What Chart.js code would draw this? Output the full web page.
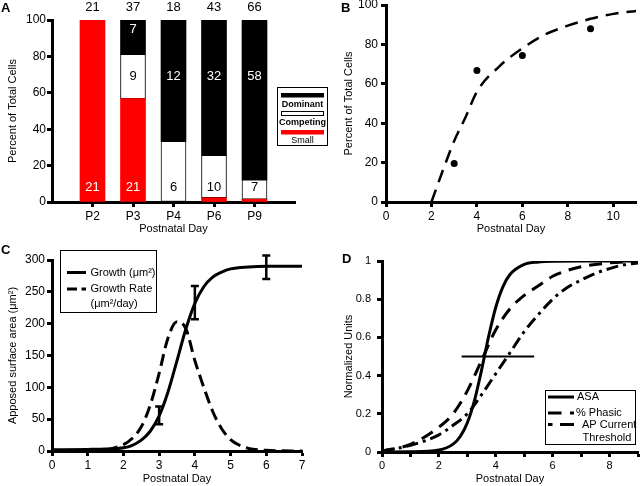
<!DOCTYPE html>
<html>
<head>
<meta charset="utf-8">
<script src="https://cdn.jsdelivr.net/npm/chart.js@4.4.1/dist/chart.umd.min.js"></script>
<style>
  body { margin: 0; background: #fff; }
  #wrap { position: relative; width: 640px; height: 486px; overflow: hidden; font-family: "Liberation Sans", Arial, sans-serif; }
  canvas { position: absolute; }
  .tag { position: absolute; font-weight: bold; font-size: 13px; line-height: 13px; color: #000; }
</style>
</head>
<body>
<div id="wrap">
  <canvas id="panelA" width="330" height="243" style="left:0;top:0"></canvas>
  <canvas id="panelB" width="310" height="243" style="left:330px;top:0"></canvas>
  <canvas id="panelC" width="320" height="243" style="left:0;top:243px"></canvas>
  <canvas id="panelD" width="320" height="243" style="left:320px;top:243px"></canvas>
  <div class="tag" style="left:1px;top:1px">A</div>
  <div class="tag" style="left:341px;top:1px">B</div>
  <div class="tag" style="left:1px;top:243px">C</div>
  <div class="tag" style="left:342px;top:252px">D</div>
</div>
<script>
// A: cell counts per day
const days = ['P2', 'P3', 'P4', 'P6', 'P9'];
const totalCells = [21, 37, 18, 43, 66];
const smallCells = [21, 21, 0, 1, 1];
const competingCells = [0, 9, 6, 10, 7];
const dominantCells = [0, 7, 12, 32, 58];

// B: percent dominant + fitted curve
const dominantDay = [3, 4, 6, 9];
const dominantPct = [19.5, 66.7, 74.4, 87.9];
const fitDay = [2, 2.5, 3, 3.5, 4, 5, 6, 7, 8, 9, 10, 11];
const fitPct = [0, 16, 31, 43, 56, 69, 78, 85, 89.5, 93, 95.5, 97];

// C: apposed surface area growth and growth rate
const growthDay = [0, 1, 1.5, 2, 2.25, 2.5, 2.75, 3, 3.25, 3.5, 3.75, 4, 4.25, 4.5, 4.75, 5, 5.5, 6, 7];
const growthArea = [2, 2.5, 3, 5, 9, 17, 31, 55, 93, 142, 192, 232, 258, 273, 281, 286, 289, 290, 290];
const rateDay = [0, 1, 1.5, 2, 2.25, 2.5, 2.75, 3, 3.25, 3.5, 3.75, 4, 4.25, 4.5, 4.75, 5, 5.25, 5.5, 6, 7];
const rateArea = [0, 0.5, 2, 10, 20, 38, 72, 122, 178, 203, 192, 142, 100, 62, 35, 18, 9, 4, 1, 0];
const sizeDay = [3, 4, 6];
const sizeLow = [42, 207, 270];
const sizeHigh = [70, 259, 307];

// D: normalized measures
const asaDay = [0, 1, 2, 2.5, 2.75, 3, 3.25, 3.5, 3.75, 4, 4.25, 4.5, 5, 5.5, 6, 7, 8, 9];
const asaVal = [0, 0.001, 0.01, 0.041, 0.081, 0.153, 0.269, 0.429, 0.606, 0.758, 0.865, 0.929, 0.982, 0.995, 0.999, 1, 1, 1];
const phasicDay = [0, 1, 2, 2.5, 3, 3.5, 4, 4.5, 5, 5.5, 6, 6.5, 7, 8, 9];
const phasicVal = [0.005, 0.04, 0.13, 0.2, 0.32, 0.48, 0.64, 0.75, 0.82, 0.87, 0.92, 0.95, 0.97, 0.99, 1];
const thresholdDay = [0, 1, 2, 2.5, 3, 3.5, 4, 4.5, 5, 5.5, 6, 6.5, 7, 7.5, 8, 8.5, 9];
const thresholdVal = [0.005, 0.035, 0.09, 0.14, 0.2, 0.3, 0.41, 0.52, 0.63, 0.72, 0.8, 0.86, 0.9, 0.935, 0.96, 0.98, 0.99];
const halfLevel = 0.5;
const halfSpan = [2.8, 5.35];

const ink = '#000';
const FONT = '"Liberation Sans", Arial, sans-serif';
Chart.defaults.font.family = FONT;
Chart.defaults.color = ink;

const pts = (xs, ys) => xs.map((x, i) => ({ x: x, y: ys[i] }));
const pctOf = arr => arr.map((v, i) => (v ? v / totalCells[i] * 100 : null));
const padEnds = arr => [null, ...arr, null];

function axis(fitSize, title, titlePad, tickPad, extra) {
  const base = {
    border: { color: ink, width: 3 },
    grid: { drawOnChartArea: false, color: ink, tickColor: ink, tickLength: 5, tickWidth: 3 },
    ticks: { color: ink, padding: tickPad, font: { size: 12 }, maxRotation: 0, autoSkip: false },
    title: { display: true, text: title, color: ink, font: { size: 11 }, padding: titlePad },
    afterFit(s) {
      if (s.isHorizontal()) s.height = fitSize; else s.width = fitSize;
      s.paddingLeft = s.paddingRight = s.paddingTop = s.paddingBottom = 0;
    }
  };
  const out = Object.assign({}, base, extra || {});
  if (extra && extra.ticks) out.ticks = Object.assign({}, base.ticks, extra.ticks);
  if (extra && extra.grid) out.grid = Object.assign({}, base.grid, extra.grid);
  return out;
}

const commonOpts = {
  responsive: false,
  animation: false,
  events: [],
  plugins: { legend: { display: false }, tooltip: { enabled: false } }
};

function curve(data, dash, width) {
  return {
    data: data, borderColor: ink, borderWidth: width || 3, borderDash: dash || [],
    pointRadius: 0, fill: false, cubicInterpolationMode: 'monotone', borderCapStyle: 'butt'
  };
}

// ---------- Panel A ----------
const barNotes = {
  id: 'barNotes',
  afterDatasetsDraw(chart) {
    const { ctx, chartArea } = chart;
    const x = chart.scales.x, y = chart.scales.y;
    ctx.save();
    ctx.textAlign = 'center';
    ctx.textBaseline = 'middle';
    days.forEach((d, i) => {
      const px = x.getPixelForValue(i + 1);
      ctx.font = '13px ' + FONT;
      ctx.fillStyle = ink;
      ctx.fillText(String(totalCells[i]), px, chartArea.top - 13);
      let lo = 0;
      [[smallCells, '#fff'], [competingCells, ink], [dominantCells, '#fff']].forEach(([arr, col]) => {
        const hi = lo + arr[i] / totalCells[i] * 100;
        const from = lo;
        lo = hi;
        if (arr[i] < 2) return;
        const at = (from <= 8 && hi >= 8) ? 8 : (from <= 69 && hi >= 69) ? 69 : hi - 5;
        ctx.fillStyle = col;
        ctx.fillText(String(arr[i]), px, y.getPixelForValue(at));
      });
    });
    // legend box
    ctx.lineWidth = 1;
    ctx.strokeStyle = ink;
    ctx.strokeRect(277.5, 87.5, 50, 58);
    ctx.fillStyle = ink;
    ctx.fillRect(281, 93, 43, 4.5);
    ctx.strokeRect(281.5, 111.5, 42, 4);
    ctx.fillStyle = '#ff0000';
    ctx.fillRect(281, 130, 43, 4.5);
    ctx.fillStyle = ink;
    ctx.font = 'bold 9px ' + FONT;
    ctx.fillText('Dominant', 302.5, 105);
    ctx.fillText('Competing', 302.5, 123);
    ctx.font = '9px ' + FONT;
    ctx.fillText('Small', 302.5, 141);
    ctx.restore();
  }
};

new Chart(document.getElementById('panelA'), {
  type: 'bar',
  data: {
    labels: padEnds(days).map(v => v || ''),
    datasets: [
      { label: 'Small', data: padEnds(pctOf(smallCells)), backgroundColor: '#ff0000', borderWidth: 0 },
      { label: 'Competing', data: padEnds(pctOf(competingCells)), backgroundColor: '#fff', borderColor: ink, borderWidth: 1, borderSkipped: false },
      { label: 'Dominant', data: padEnds(pctOf(dominantCells)), backgroundColor: ink, borderWidth: 0 }
    ]
  },
  options: Object.assign({}, commonOpts, {
    layout: { padding: { top: 20, right: 35, left: 0, bottom: 0 } },
    datasets: { bar: { barThickness: 25 } },
    scales: {
      x: axis(41, 'Postnatal Day', { top: 0, bottom: 7 }, 2, {
        stacked: true, offset: false,
        grid: { offset: false, tickColor: c => (c.index === 0 || c.index === days.length + 1) ? 'rgba(0,0,0,0)' : ink }
      }),
      y: axis(52, 'Percent of Total Cells', { top: 6, bottom: 0 }, 1, {
        stacked: true, min: 0, max: 100, ticks: { stepSize: 20 }
      })
    }
  }),
  plugins: [barNotes]
});

// ---------- Panel B ----------
new Chart(document.getElementById('panelB'), {
  type: 'line',
  data: {
    datasets: [
      curve(pts(fitDay, fitPct), [13, 8], 2.5),
      { data: pts(dominantDay, dominantPct), showLine: false, pointRadius: 3.5, pointBackgroundColor: ink, pointBorderWidth: 0 }
    ]
  },
  options: Object.assign({}, commonOpts, {
    layout: { padding: { top: 5, right: 4, left: 0, bottom: 0 } },
    scales: {
      x: axis(41, 'Postnatal Day', { top: 0, bottom: 7 }, 2, {
        type: 'linear', min: 0, max: 11, ticks: { stepSize: 2, includeBounds: false }
      }),
      y: axis(56, 'Percent of Total Cells', { top: 12, bottom: 0 }, 3, {
        min: 0, max: 100, ticks: { stepSize: 20 }
      })
    }
  })
});

// ---------- Panel C ----------
const growthExtras = {
  id: 'growthExtras',
  afterDatasetsDraw(chart) {
    const { ctx } = chart;
    const x = chart.scales.x, y = chart.scales.y;
    ctx.save();
    ctx.strokeStyle = ink;
    ctx.lineWidth = 2.5;
    sizeDay.forEach((d, i) => {
      const px = x.getPixelForValue(d);
      const yl = y.getPixelForValue(sizeLow[i]);
      const yh = y.getPixelForValue(sizeHigh[i]);
      ctx.beginPath();
      ctx.moveTo(px, yl); ctx.lineTo(px, yh);
      ctx.moveTo(px - 4, yl); ctx.lineTo(px + 4, yl);
      ctx.moveTo(px - 4, yh); ctx.lineTo(px + 4, yh);
      ctx.stroke();
    });
    // legend
    ctx.lineWidth = 1;
    ctx.strokeRect(60.5, 7.5, 96, 62);
    ctx.lineWidth = 3;
    ctx.beginPath(); ctx.moveTo(67, 29.5); ctx.lineTo(86, 29.5); ctx.stroke();
    ctx.beginPath(); ctx.moveTo(67, 46); ctx.lineTo(77, 46); ctx.moveTo(81.5, 46); ctx.lineTo(86, 46); ctx.stroke();
    ctx.fillStyle = ink;
    ctx.font = '11px ' + FONT;
    ctx.textAlign = 'left';
    ctx.textBaseline = 'middle';
    ctx.fillText('Growth (\u03bcm\u00b2)', 90.5, 29.5);
    ctx.fillText('Growth Rate', 90.5, 45.5);
    ctx.fillText('(\u03bcm\u00b2/day)', 90.5, 61);
    ctx.restore();
  }
};

new Chart(document.getElementById('panelC'), {
  type: 'line',
  data: {
    datasets: [
      curve(pts(growthDay, growthArea), [], 3),
      curve(pts(rateDay, rateArea), [12, 6], 3)
    ]
  },
  options: Object.assign({}, commonOpts, {
    layout: { padding: { top: 17, right: 18, left: 0, bottom: 0 } },
    scales: {
      x: axis(35, 'Postnatal Day', { top: 0, bottom: 0 }, 2, {
        type: 'linear', min: 0, max: 7, ticks: { stepSize: 1 }
      }),
      y: axis(52, 'Apposed surface area (\u03bcm\u00b2)', { top: 6, bottom: 0 }, 2, {
        min: 0, max: 300, ticks: { stepSize: 50 }
      })
    }
  }),
  plugins: [growthExtras]
});

// ---------- Panel D ----------
const normLegend = {
  id: 'normLegend',
  afterDatasetsDraw(chart) {
    const { ctx } = chart;
    ctx.save();
    ctx.strokeStyle = ink;
    ctx.fillStyle = '#fff';
    ctx.fillRect(225, 147, 90, 54);
    ctx.lineWidth = 1;
    ctx.strokeRect(225.5, 147.5, 90, 54);
    ctx.lineWidth = 3;
    ctx.beginPath(); ctx.moveTo(228, 154); ctx.lineTo(254, 154); ctx.stroke();
    ctx.beginPath(); ctx.moveTo(228, 170); ctx.lineTo(241.5, 170); ctx.moveTo(250, 170); ctx.lineTo(254, 170); ctx.stroke();
    ctx.beginPath(); ctx.moveTo(228, 181.5); ctx.lineTo(232.5, 181.5); ctx.moveTo(240, 181.5); ctx.lineTo(254, 181.5); ctx.stroke();
    ctx.fillStyle = ink;
    ctx.font = '11px ' + FONT;
    ctx.textAlign = 'left';
    ctx.textBaseline = 'middle';
    ctx.fillText('ASA', 257, 154);
    ctx.fillText('% Phasic', 256, 169.5);
    ctx.fillText('AP Current', 262, 181.5);
    ctx.fillText('Threshold', 262.5, 194.5);
    ctx.restore();
  }
};

new Chart(document.getElementById('panelD'), {
  type: 'line',
  data: {
    datasets: [
      curve(pts(asaDay, asaVal), [], 3),
      curve(pts(phasicDay, phasicVal), [13, 8], 3),
      curve(pts(thresholdDay, thresholdVal), [12, 5, 3, 5], 3),
      { data: halfSpan.map(x => ({ x: x, y: halfLevel })), borderColor: ink, borderWidth: 2, pointRadius: 0 }
    ]
  },
  options: Object.assign({}, commonOpts, {
    layout: { padding: { top: 18, right: 2, left: 0, bottom: 0 } },
    scales: {
      x: axis(34, 'Postnatal Day', { top: 0, bottom: 0 }, 2, {
        type: 'linear', min: 0, max: 9,
        ticks: { stepSize: 1, font: { size: 11 }, callback: v => (v % 2 === 0 ? String(v) : '') }
      }),
      y: axis(62, 'Normalized Units', { top: 22, bottom: 0 }, 6, {
        min: 0, max: 1,
        ticks: { stepSize: 0.2, font: { size: 11 }, callback: v => String(Number(v.toFixed(1))) }
      })
    }
  }),
  plugins: [normLegend]
});
</script>
</body>
</html>
